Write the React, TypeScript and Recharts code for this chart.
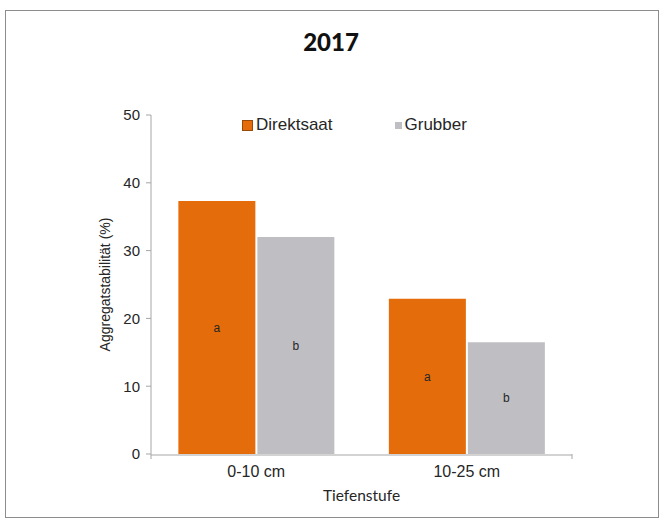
import React from "react";
import { Bar, BarChart, LabelList, Legend, XAxis, YAxis } from "recharts";

const depths = ["0-10 cm", "10-25 cm"];
const direktsaat = [37.3, 22.9];
const grubber = [32.0, 16.5];
const direktsaatLetters = ["a", "a"];
const grubberLetters = ["b", "b"];
const yTicks = [0, 10, 20, 30, 40, 50];
const edgeTicks = [0, 1, 2];

const data = depths.map((d, i) => ({
  depth: d,
  direktsaat: direktsaat[i],
  grubber: grubber[i],
  lettersD: direktsaatLetters[i],
  lettersG: grubberLetters[i],
}));

const ORANGE = "#E46C0A";
const GREY = "#BFBFC3";
const AXIS = "#A6A6A6";
const TEXT = "#262626";
const SANS = "Liberation Sans, Arial, sans-serif";

function LegendContent({ payload }: any) {
  return (
    <div style={{ display: "flex", fontFamily: SANS, fontSize: 17, color: TEXT }}>
      {(payload || []).map((p: any, i: number) => (
        <div key={p.value} style={{ display: "flex", alignItems: "center", marginRight: i === 0 ? 62 : 0 }}>
          <span
            style={{
              display: "inline-block",
              width: i === 0 ? 9 : 7,
              height: i === 0 ? 9 : 7,
              background: p.color,
              border: i === 0 ? "1px solid #9a4a08" : "none",
              marginRight: 3,
            }}
          />
          <span>{p.value}</span>
        </div>
      ))}
    </div>
  );
}

export default function App() {
  return (
    <div style={{ position: "absolute", left: 0, top: 0, width: 662, height: 520, background: "#fff" }}>
      <div
        style={{
          position: "absolute",
          left: 5,
          top: 10,
          width: 652,
          height: 506,
          border: "1px solid #8c8c8c",
        }}
      />
      <div
        style={{
          position: "absolute",
          left: 0,
          top: 27,
          width: 662,
          textAlign: "center",
          fontFamily: "Lato, sans-serif",
          fontWeight: 900,
          fontSize: 24,
          color: "#111",
        }}
      >
        2017
      </div>
      <div style={{ position: "absolute", left: 0, top: 0 }}>
        <BarChart
          width={662}
          height={520}
          data={data}
          margin={{ top: 115, left: 91, right: 90, bottom: 15 }}
          barCategoryGap="13%"
          barGap={2}
        >
          <XAxis
            xAxisId="a"
            type="number"
            domain={[0, 2]}
            ticks={edgeTicks}
            height={1}
            tick={() => <g />}
            axisLine={false}
            tickLine={{ stroke: AXIS }}
            tickSize={5}
          />
          <XAxis
            xAxisId="z"
            dataKey="depth"
            height={50}
            axisLine={{ stroke: AXIS }}
            tickLine={false}
            tickMargin={5}
            tick={{ fill: TEXT, fontSize: 16, fontFamily: SANS }}
            label={{
              value: "Tiefenstufe",
              position: "insideBottom",
              offset: 4,
              style: { fill: TEXT, fontSize: 15.5, fontFamily: "Lato, sans-serif" },
            }}
          />
          <YAxis
            width={60}
            domain={[0, 50]}
            ticks={yTicks}
            axisLine={{ stroke: AXIS }}
            tickLine={{ stroke: AXIS }}
            tickSize={5}
            tickMargin={6}
            tick={{ fill: TEXT, fontSize: 15, fontFamily: SANS }}
            label={{
              value: "Aggregatstabilität (%)",
              angle: -90,
              position: "insideLeft",
              offset: 14,
              style: { textAnchor: "middle", fill: TEXT, fontSize: 14, fontFamily: SANS },
            }}
          />
          <Legend
            layout="horizontal"
            verticalAlign="middle"
            align="center"
            content={<LegendContent />}
            wrapperStyle={{ top: 115, left: 242, width: 340 }}
          />
          <Bar xAxisId="z" dataKey="direktsaat" name="Direktsaat" fill={ORANGE} isAnimationActive={false}>
            <LabelList dataKey="lettersD" position="center" style={{ fill: TEXT, fontSize: 12, fontFamily: SANS }} />
          </Bar>
          <Bar xAxisId="z" dataKey="grubber" name="Grubber" fill={GREY} isAnimationActive={false}>
            <LabelList dataKey="lettersG" position="center" style={{ fill: TEXT, fontSize: 12, fontFamily: SANS }} />
          </Bar>
        </BarChart>
      </div>
    </div>
  );
}
